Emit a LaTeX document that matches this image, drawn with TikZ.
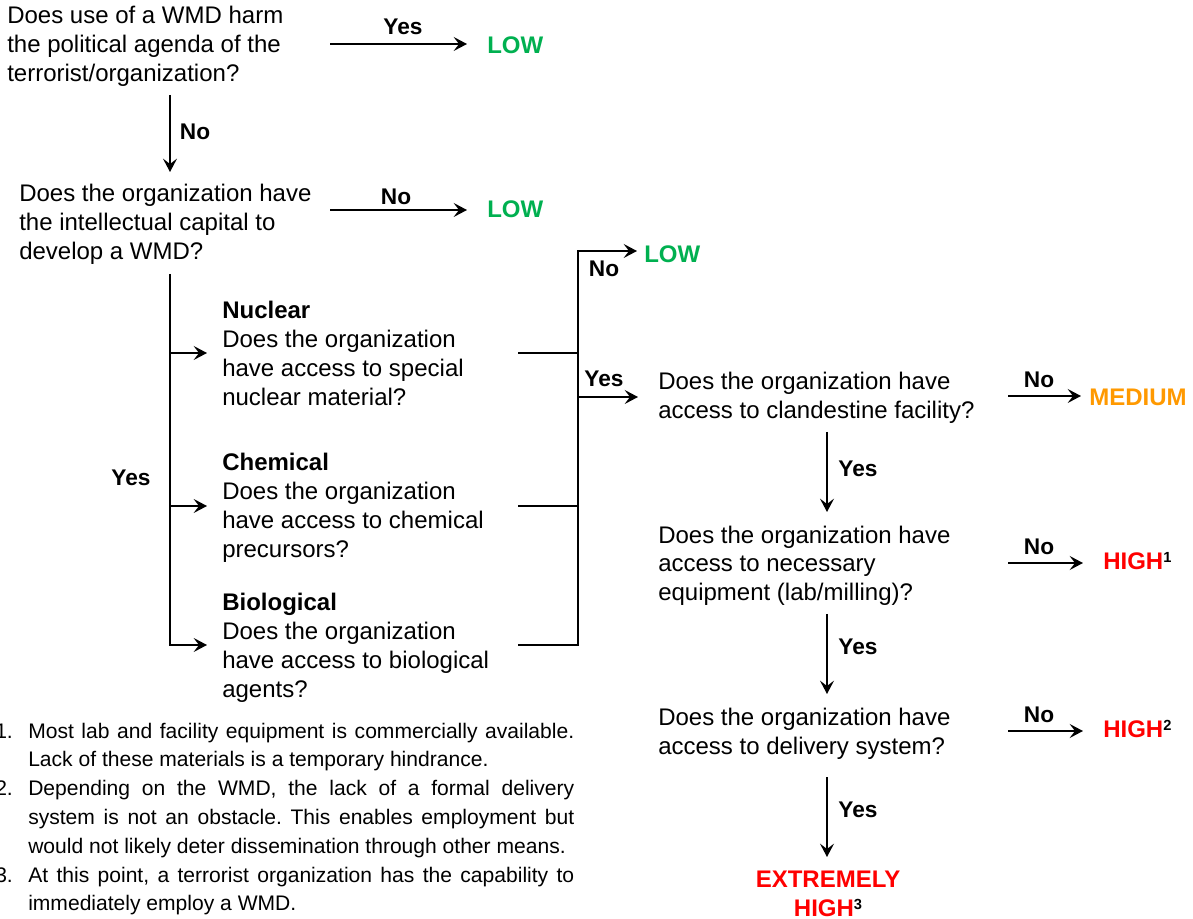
\documentclass[tikz,border=0pt]{standalone}
\usepackage{fontspec}
\setmainfont{Liberation Sans}
\usetikzlibrary{arrows.meta}
\definecolor{lowgreen}{HTML}{00B050}
\definecolor{medorange}{HTML}{FF9900}
\definecolor{highred}{HTML}{FF0000}
\newlength{\px}\setlength{\px}{0.75pt}
\newcommand{\sups}[1]{\textcolor{black}{\raisebox{5pt}{\fontsize{11}{11}\selectfont #1}}}
\frenchspacing
\begin{document}
\begin{tikzpicture}[x=0.75pt,y=-0.75pt,
  conn/.style={line width=1.6pt},
  arr/.style={conn,-{Stealth[length=10pt,width=10.5pt,inset=4pt]}},
  qtext/.style={anchor=base west,inner sep=0pt,align=left,font={\fontsize{18}{21.75}\selectfont}},
  lbl/.style={inner sep=0pt,font={\fontsize{17}{20}\selectfont\bfseries}},
  outc/.style={inner sep=0pt,anchor=west,font={\fontsize{18}{21.4}\selectfont\bfseries}},
  notes/.style={anchor=base west,inner sep=0pt,text width=579\px,align=justify,font={\fontsize{15.8}{21.6}\selectfont}}]

\useasboundingbox (0,0) rectangle (1193,919);

% ---- Question 1 (anchor = baseline of last line)
\node[qtext] (q1) at (7,82) {Does use of a WMD harm\\the political agenda of the\\terrorist/organization?};
\node[outc,text=lowgreen] (low1) at (487,45) {LOW};
\coordinate (a1s) at (330,44);
\draw[arr,shorten >=20\px] (a1s) -- (a1s -| low1.west);
\node[lbl] (l1) at (403,27) {Yes};

\coordinate (v1s) at (170,95);
\coordinate (v1e) at (170,172);
\draw[arr] (v1s) -- (v1e);
\node[lbl] (l2) at (195,132) {No};

% ---- Question 2
\node[qtext] (q2) at (19,260) {Does the organization have\\the intellectual capital to\\develop a WMD?};
\node[outc,text=lowgreen] (low2) at (487,209) {LOW};
\coordinate (a2s) at (330,210);
\draw[arr,shorten >=20\px] (a2s) -- (a2s -| low2.west);
\node[lbl] (l3) at (396,197) {No};

% ---- Branches
\node[qtext] (nuc) at (222,406) {\textbf{Nuclear}\\Does the organization\\have access to special\\nuclear material?};
\node[qtext] (chem) at (222,558) {\textbf{Chemical}\\Does the organization\\have access to chemical\\precursors?};
\node[qtext] (bio) at (222,697) {\textbf{Biological}\\Does the organization\\have access to biological\\agents?};
\node[lbl] (l4) at (131,478) {Yes};

\coordinate (bt) at (170,274);
\coordinate (bn) at (170,353);
\coordinate (bc) at (170,506);
\coordinate (bb) at (170,645);
\draw[arr,shorten >=15\px] (bt) |- (bb -| bio.west);
\draw[arr,shorten >=15\px] (bn) -- (bn -| nuc.west);
\draw[arr,shorten >=15\px] (bc) -- (bc -| chem.west);

% ---- Junction
\node[outc,text=lowgreen] (low3) at (644,254) {LOW};
\node[qtext] (q3) at (658,419) {Does the organization have\\access to clandestine facility?};
\coordinate (rn) at (518,353);
\coordinate (rc) at (518,506);
\coordinate (rb) at (518,645);
\coordinate (jb) at (578,645);
\coordinate (jt) at (578,251);
\coordinate (jy) at (578,397);
\draw[arr,shorten >=7\px] (rb) -- (jb) -- (jt) -- (jt -| low3.west);
\draw[conn] (rn) -- (rn -| jb);
\draw[conn] (rc) -- (rc -| jb);
\draw[arr,shorten >=20\px] (jy) -- (jy -| q3.west);
\node[lbl] (l5) at (604,269) {No};
\node[lbl] (l6) at (604,379) {Yes};

% ---- Question 3
\node[outc,text=medorange] (med) at (1089,397) {MEDIUM};
\coordinate (a3s) at (1008,396);
\draw[arr,shorten >=8\px] (a3s) -- (a3s -| med.west);
\node[lbl] (l7) at (1039,380) {No};

\coordinate (v2s) at (827,432);
\coordinate (v2e) at (827,512);
\draw[arr] (v2s) -- (v2e);
\node[lbl] (l8) at (858,469) {Yes};

% ---- Question 4
\node[qtext] (q4) at (658,601) {Does the organization have\\access to necessary\\equipment (lab/milling)?};
\node[outc,text=highred] (high1) at (1103,561) {HIGH\sups{1}};
\coordinate (a4s) at (1008,563);
\draw[arr,shorten >=20\px] (a4s) -- (a4s -| high1.west);
\node[lbl] (l9) at (1039,547) {No};

\coordinate (v3s) at (827,614);
\coordinate (v3e) at (827,694);
\draw[arr] (v3s) -- (v3e);
\node[lbl] (l10) at (858,647) {Yes};

% ---- Question 5
\node[qtext] (q5) at (658,754) {Does the organization have\\access to delivery system?};
\node[outc,text=highred] (high2) at (1103,729) {HIGH\sups{2}};
\coordinate (a5s) at (1008,731);
\draw[arr,shorten >=20\px] (a5s) -- (a5s -| high2.west);
\node[lbl] (l11) at (1039,715) {No};

\coordinate (v4s) at (827,777);
\coordinate (v4e) at (827,857);
\draw[arr] (v4s) -- (v4e);
\node[lbl] (l12) at (858,810) {Yes};

\node[outc,anchor=base,align=center,text=highred] (ext) at (828,916) {EXTREMELY\\HIGH\sups{3}};

% ---- Footnotes
\node[notes] (fn) at (-5,738) {%
\hangindent=33\px\hangafter=1\noindent\makebox[33\px][l]{1.}Most lab and facility equipment is commercially available.\linebreak Lack of these materials is a temporary hindrance.\par
\hangindent=33\px\hangafter=1\noindent\makebox[33\px][l]{2.}Depending on the WMD, the lack of a formal delivery\linebreak system is not an obstacle. This enables employment but\linebreak would not likely deter dissemination through other means.\par
\hangindent=33\px\hangafter=1\noindent\makebox[33\px][l]{3.}At this point, a terrorist organization has the capability to\linebreak immediately employ a WMD.\par};

\end{tikzpicture}
\end{document}
